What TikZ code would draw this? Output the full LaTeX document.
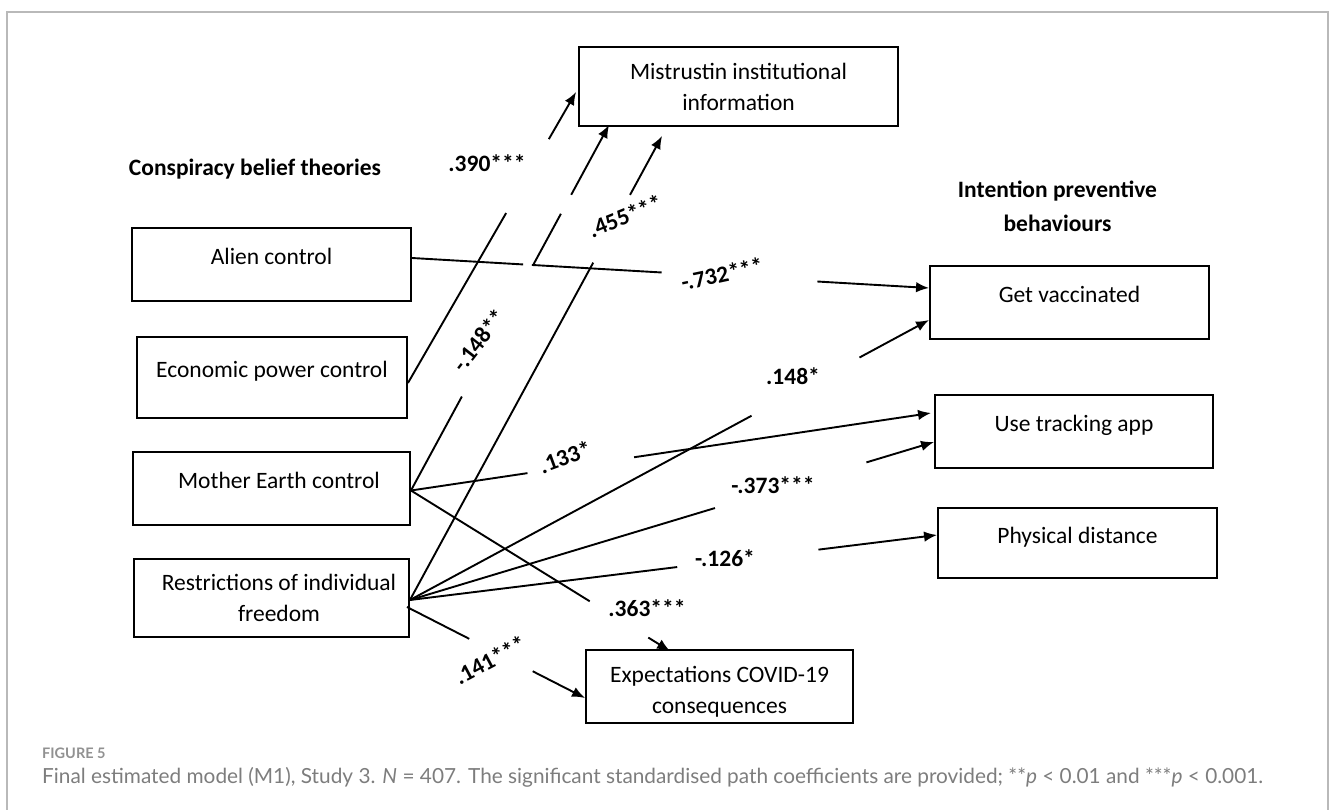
\documentclass[tikz,border=0pt]{standalone}
\usepackage{fontspec}
\setmainfont{Carlito}
\newfontfamily\capfont{Lato}
\usetikzlibrary{arrows.meta, calc}

\definecolor{framegray}{RGB}{185,185,185}
\definecolor{capgray}{RGB}{125,125,125}

\tikzset{
  box/.style={draw=black, line width=1.9pt, rectangle, inner sep=0pt, align=center,
    font=\fontsize{23.5}{31}\selectfont},
  onebox/.style={box, text height=10pt, text depth=10pt},
  grouphead/.style={inner sep=0pt, font=\fontsize{23.5}{34}\selectfont\bfseries},
  coef/.style={inner sep=0pt, font=\fontsize{23.5}{28}\selectfont\bfseries},
  link/.style={line width=1.9pt},
}

\begin{document}
\begin{tikzpicture}[x=1pt, y=-1pt, >={Latex[length=13pt,width=10.5pt]}]
\useasboundingbox (0,0) rectangle (1331,810);
\draw[framegray, line width=1.4pt] (7,810) -- (7,12) -- (1328,12) -- (1328,810);

% group headings
\node[grouphead, anchor=base] (hcons) at (255,176) {Conspiracy belief theories};
\node[grouphead, align=center] (hint) at (1057.5,206) {Intention preventive\\behaviours};

% conspiracy beliefs
\node[onebox, minimum width=279pt, minimum height=73pt] (alien) at (271.5,264.5) {Alien control};
\node[onebox, minimum width=270pt, minimum height=81pt] (eco) at (272,377.5) {Economic power control};
\node[onebox, minimum width=277pt, minimum height=73pt] (earth) at (271.5,488.5) {\hspace*{15pt}Mother Earth control};
\node[box, minimum width=275pt, minimum height=78pt] (restr) at (271.5,598) {\hspace*{15pt}Restrictions of individual\\\hspace*{15pt}freedom};

% mediators
\node[box, minimum width=319pt, minimum height=79pt] (mis) at (738.5,86.5) {Mistrustin institutional\\information};
\node[box, minimum width=267pt, minimum height=73pt, text height=53pt, text depth=0pt] (expect) at (719.5,686.5) {Expectations COVID-19\\consequences};

% intentions
\node[onebox, minimum width=279pt, minimum height=73pt] (vacc) at (1069.5,302.5) {Get vaccinated};
\node[onebox, minimum width=278pt, minimum height=73pt] (track) at (1074,431.5) {Use tracking app};
\node[onebox, minimum width=279pt, minimum height=70pt] (dist) at (1077.5,543) {Physical distance};

% path coefficients
\node[coef] (c390) at (487,163) {.390***};
\node[coef, rotate=12] (c732) at (722,274) {-.732***};
\node[coef, rotate=22] (c455) at (625,216) {.455***};
\node[coef, rotate=52] (c148n) at (479,340) {-.148**};
\node[coef, rotate=20] (c133) at (565,457) {.133*};
\node[coef] (c148) at (793,376) {.148*};
\node[coef] (c373) at (773,485) {-.373***};
\node[coef] (c126) at (725,558) {-.126*};
\node[coef] (c363) at (647,608) {.363***};
\node[coef, rotate=28] (c141) at (490,660) {.141***};

% start and end points
\coordinate (sa) at ($(alien.east)+(0,-6.5)$);
\coordinate (se) at ($(eco.east)+(0,5.5)$);
\coordinate (sm) at ($(earth.east)+(0,2)$);
\coordinate (sr) at ($(restr.east)+(0,2)$);
\coordinate (sr2) at ($(restr.east)+(-3,9)$);
\coordinate (mis1) at ($(mis.west)+(-2,5.5)$);
\coordinate (mis2) at ($(mis.south west)+(31,-2)$);
\coordinate (mis3) at ($(mis.south west)+(84,9)$);
\coordinate (vac1) at ($(vacc.west)+(0,-14.5)$);
\coordinate (vac2) at ($(vacc.west)+(0,17.5)$);
\coordinate (trk1) at ($(track.west)+(-3,-18.5)$);
\coordinate (trk2) at ($(track.west)+(0,10.5)$);
\coordinate (dst1) at ($(dist.west)+(0,-8)$);
\coordinate (exp1) at ($(expect.north west)+(85,2)$);
\coordinate (exp2) at ($(expect.west)+(0,11.5)$);

% alien control
\draw[link] (sa) -- ($(sa)!.215!(vac1)$);
\draw[link] ($(sa)!.232!(vac1)$) -- ($(sa)!.483!(vac1)$);
\draw[link,->] ($(sa)!.784!(vac1)$) -- (vac1);

% economic power control
\draw[link] (se) -- ($(se)!.584!(mis1)$);
\draw[link,->] ($(se)!.838!(mis1)$) -- (mis1);

% mother earth control
\draw[link] (sm) -- ($(sm)!.257!(mis2)$);
\draw[link] ($(sm)!.615!(mis2)$) -- ($(sm)!.757!(mis2)$);
\draw[link,->] ($(sm)!.809!(mis2)$) -- (mis2);
\draw[link] (sm) -- ($(sm)!.224!(trk1)$);
\draw[link,->] ($(sm)!.429!(trk1)$) -- (trk1);
\draw[link] (sm) -- ($(sm)!.690!(exp1)$);
\draw[link,->] ($(sm)!.916!(exp1)$) -- (exp1);

% restrictions of individual freedom
\draw[link] (sr) -- ($(sr)!.727!(mis3)$);
\draw[link,->] ($(sr)!.873!(mis3)$) -- (mis3);
\draw[link] (sr) -- ($(sr)!.658!(vac2)$);
\draw[link,->] ($(sr)!.866!(vac2)$) -- (vac2);
\draw[link] (sr) -- ($(sr)!.582!(trk2)$);
\draw[link,->] ($(sr)!.871!(trk2)$) -- (trk2);
\draw[link] (sr) -- ($(sr)!.507!(dst1)$);
\draw[link,->] ($(sr)!.775!(dst1)$) -- (dst1);
\draw[link] (sr2) -- ($(sr2)!.35!(exp2)$);
\draw[link,->] ($(sr2)!.706!(exp2)$) -- (exp2);

% caption
\node[anchor=base west, inner sep=0pt, text=capgray!85, font=\capfont\bfseries\fontsize{14.5}{16}\selectfont] (fig) at (42,758) {FIGURE 5};
\node[anchor=base west, inner sep=0pt, text=capgray, font=\capfont\fontsize{20.8}{24}\selectfont] (cap) at (42,783) {Final estimated model (M1), Study 3. \textit{N} = 407. The significant standardised path coefficients are provided; **\textit{p} < 0.01 and ***\textit{p} < 0.001.};
\end{tikzpicture}
\end{document}
